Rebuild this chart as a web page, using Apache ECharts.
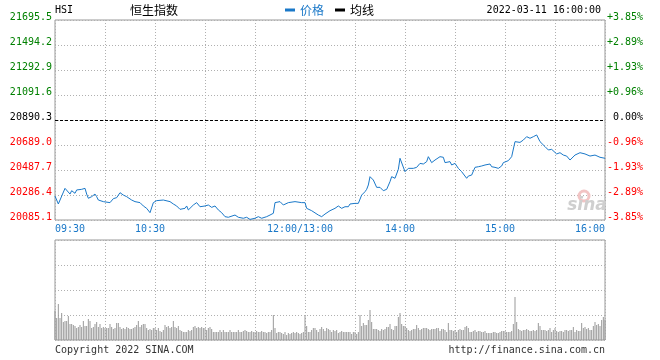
<!DOCTYPE html>
<html>
<head>
<meta charset="utf-8">
<script src="https://cdn.jsdelivr.net/npm/echarts@6/dist/echarts.min.js"></script>
<style>
	html, body { margin: 0; padding: 0; background: #fff; }
	#main { width: 660px; height: 360px; }
</style>
</head>
<body>
<div id="main"></div>
<script>
	// 昨收 / 纵轴刻度
	var prevClose = 20890.3;
	var priceMin = 20085.1;
	var priceMax = 21695.5;
	var priceStep = 201.3;

	// 横轴: 交易分钟 (09:30 起, 午间合并)
	var tickMinutes = [0, 60, 150, 210, 270, 330];
	var tickLabels = ['09:30', '10:30', '12:00/13:00', '14:00', '15:00', '16:00'];

	// 价格走势 (分钟, 点位)
	var priceTimes = [0, 2, 6, 7, 9, 10, 12, 13, 14, 16, 18, 19, 20, 22, 23, 24, 25, 26, 29, 30,
		33, 35, 37, 39, 41, 43, 46, 48, 51, 53, 55, 57, 59, 61, 62, 65, 66, 69, 71, 73,
		75, 78, 79, 80, 83, 85, 87, 90, 92, 94, 96, 98, 100, 102, 104, 108, 110, 113, 115, 117,
		120, 122, 124, 127, 129, 131, 132, 135, 137, 140, 144, 148, 150, 151, 154, 158, 160, 162, 165, 168,
		170, 172, 174, 176, 177, 180, 182, 184, 186, 187, 188, 189, 191, 192, 193, 195, 196, 197, 199, 201,
		202, 204, 206, 207, 208, 210, 212, 213, 215, 217, 219, 220, 221, 223, 224, 226, 228, 231, 233, 234,
		235, 237, 238, 240, 242, 244, 247, 248, 250, 252, 254, 256, 258, 259, 261, 262, 264, 266, 268, 269,
		272, 274, 276, 277, 279, 281, 283, 285, 287, 289, 291, 294, 296, 298, 301, 303, 305, 307, 309, 312,
		315, 318, 321, 324, 327, 330];
	var prices = [20278, 20214, 20340, 20327, 20294, 20321, 20300, 20327, 20319, 20332, 20340, 20294, 20260, 20273, 20260, 20294, 20273, 20246, 20233, 20225,
		20225, 20257, 20265, 20305, 20286, 20273, 20246, 20233, 20225, 20198, 20179, 20144, 20225, 20241, 20225, 20246, 20260, 20233, 20214, 20198,
		20171, 20179, 20198, 20166, 20206, 20225, 20192, 20198, 20206, 20187, 20198, 20166, 20144, 20112, 20107, 20125, 20107, 20099, 20107, 20090,
		20099, 20112, 20099, 20112, 20125, 20139, 20225, 20233, 20206, 20225, 20233, 20225, 20225, 20179, 20160, 20125, 20112, 20133, 20160, 20179,
		20198, 20179, 20192, 20192, 20214, 20219, 20219, 20286, 20313, 20332, 20367, 20434, 20407, 20394, 20348, 20348, 20332, 20321, 20332, 20394,
		20434, 20421, 20493, 20582, 20568, 20474, 20501, 20488, 20501, 20509, 20541, 20547, 20536, 20555, 20595, 20547, 20568, 20595, 20590, 20547,
		20536, 20555, 20528, 20541, 20501, 20474, 20421, 20439, 20447, 20509, 20514, 20520, 20528, 20514, 20536, 20514, 20509, 20501, 20520, 20547,
		20563, 20595, 20716, 20702, 20710, 20729, 20756, 20743, 20756, 20770, 20716, 20676, 20649, 20654, 20617, 20627, 20608, 20600, 20568, 20608,
		20627, 20617, 20600, 20608, 20590, 20582];

	// 成交量 (每分钟一根, 0..330)
	var volumes = [
		29, 22, 36, 22, 27, 18, 19, 19, 24, 16,
		16, 15, 14, 12, 13, 15, 13, 19, 14, 14,
		21, 19, 12, 13, 16, 18, 13, 16, 12, 13,
		12, 12, 12, 16, 13, 11, 12, 17, 17, 13,
		11, 12, 11, 13, 12, 11, 11, 12, 13, 15,
		19, 13, 15, 16, 16, 12, 10, 11, 10, 12,
		12, 10, 12, 9, 8, 10, 15, 13, 14, 12,
		13, 19, 13, 12, 14, 10, 9, 8, 8, 8,
		10, 9, 10, 13, 14, 12, 13, 12, 13, 12,
		12, 10, 12, 13, 11, 8, 8, 8, 8, 10,
		8, 10, 8, 8, 8, 10, 8, 8, 8, 8,
		10, 8, 8, 9, 10, 9, 8, 8, 9, 8,
		8, 9, 8, 8, 9, 8, 8, 7, 8, 8,
		10, 25, 12, 7, 8, 8, 7, 6, 8, 5,
		7, 6, 7, 8, 7, 8, 7, 6, 7, 8,
		24, 14, 8, 8, 10, 12, 12, 10, 8, 11,
		13, 11, 9, 12, 11, 10, 8, 10, 9, 10,
		7, 8, 9, 8, 8, 8, 8, 8, 6, 8,
		8, 6, 8, 25, 14, 17, 15, 15, 20, 30,
		18, 11, 11, 11, 10, 9, 11, 10, 11, 13,
		13, 16, 11, 10, 14, 14, 23, 27, 16, 14,
		14, 12, 10, 9, 10, 11, 11, 15, 12, 10,
		11, 12, 12, 12, 11, 10, 11, 11, 11, 12,
		12, 9, 11, 11, 10, 8, 17, 10, 10, 9,
		10, 8, 10, 11, 10, 10, 13, 14, 12, 8,
		8, 9, 10, 8, 9, 9, 8, 8, 9, 7,
		7, 7, 7, 8, 8, 7, 7, 8, 9, 9,
		9, 8, 8, 8, 9, 16, 43, 18, 11, 10,
		9, 10, 10, 11, 10, 9, 9, 10, 9, 10,
		17, 14, 10, 10, 10, 9, 10, 12, 8, 10,
		12, 9, 8, 9, 9, 8, 10, 10, 9, 10,
		10, 13, 8, 10, 9, 9, 17, 12, 13, 11,
		12, 10, 10, 14, 18, 15, 16, 14, 20, 23,
		20];

	var MONO = 'DejaVu Sans Mono';
	var BLUE = '#1a78c8';
	var GRID_LINE = { show: true, lineStyle: { color: '#b0b0b0', type: [1, 2], width: 1 } };

	function priceColor(v) {
		var d = v - prevClose;
		if (Math.abs(d) < 0.05) return '#000000';
		return d > 0 ? '#008000' : '#ff0000';
	}

	function timeFormatter(v) {
		var i = tickMinutes.indexOf(Math.round(v));
		if (i < 0) return '';
		if (i == 0) return '{l|' + tickLabels[i] + '}';
		if (i == tickLabels.length - 1) return '{r|' + tickLabels[i] + '}';
		return '{m|' + tickLabels[i] + '}';
	}

	var linePoints = [];
	for (var i = 0; i < priceTimes.length; i++) {
		linePoints.push([priceTimes[i], prices[i]]);
	}
	var volPoints = [];
	for (var j = 0; j < volumes.length; j++) {
		volPoints.push([j, volumes[j]]);
	}

	var myChart = echarts.init(document.getElementById('main'));
	var option = {
		animation: false,
		backgroundColor: '#ffffff',
		legend: {
			left: 285,
			top: 4,
			padding: 0,
			icon: 'rect',
			itemWidth: 10,
			itemHeight: 3,
			itemGap: 11,
			selectedMode: false,
			textStyle: { fontSize: 12, fontFamily: 'Noto Sans CJK SC' },
			data: [
				{ name: '价格', textStyle: { color: BLUE } },
				{ name: '均线', textStyle: { color: '#000' } }
			]
		},
		grid: [
			{ left: 55, right: 55, top: 20, height: 200, show: true, borderColor: '#999', borderWidth: 1 },
			{ left: 55, right: 55, top: 240, height: 100, show: true, borderColor: '#999', borderWidth: 1 }
		],
		xAxis: [{
			type: 'value',
			gridIndex: 0,
			min: 0,
			max: 330,
			interval: 30,
			axisLine: { show: false },
			axisTick: { show: false },
			splitLine: GRID_LINE,
			axisLabel: {
				margin: 4,
				formatter: timeFormatter,
				fontFamily: MONO,
				fontSize: 10,
				color: BLUE,
				rich: {
					l: { fontFamily: MONO, fontSize: 10, color: BLUE, padding: [0, 0, 0, 30] },
					m: { fontFamily: MONO, fontSize: 10, color: BLUE, padding: [0, 10, 0, 0] },
					r: { fontFamily: MONO, fontSize: 10, color: BLUE, padding: [0, 30, 0, 0] }
				}
			}
		}, {
			type: 'value',
			gridIndex: 1,
			min: 0,
			max: 330,
			interval: 30,
			axisLine: { show: false },
			axisTick: { show: false },
			axisLabel: { show: false },
			splitLine: GRID_LINE
		}],
		yAxis: [{
			type: 'value',
			gridIndex: 0,
			position: 'left',
			min: priceMin,
			max: priceMax,
			interval: priceStep,
			axisLine: { show: false },
			axisTick: { show: false },
			splitLine: GRID_LINE,
			axisLabel: {
				margin: 3,
				fontFamily: MONO,
				fontSize: 10,
				verticalAlign: 'bottom',
				lineHeight: 5,
				formatter: function (v) { return v.toFixed(1); },
				color: function (v) { return priceColor(Number(v)); }
			}
		}, {
			type: 'value',
			gridIndex: 0,
			position: 'right',
			min: priceMin,
			max: priceMax,
			interval: priceStep,
			axisLine: { show: false },
			axisTick: { show: false },
			splitLine: { show: false },
			axisLabel: {
				margin: 38,
				align: 'right',
				fontFamily: MONO,
				fontSize: 10,
				verticalAlign: 'bottom',
				lineHeight: 5,
				formatter: function (v) {
					var pct = (v - prevClose) / prevClose * 100;
					if (Math.abs(pct) < 0.005) return '0.00%';
					return (pct > 0 ? '+' : '') + pct.toFixed(2) + '%';
				},
				color: function (v) { return priceColor(Number(v)); }
			}
		}, {
			type: 'value',
			gridIndex: 1,
			min: 0,
			max: 100,
			interval: 25,
			axisLine: { show: false },
			axisTick: { show: false },
			axisLabel: { show: false },
			splitLine: GRID_LINE
		}],
		graphic: [
			{ type: 'text', x: 55, y: 10, style: { text: 'HSI', font: '10px "DejaVu Sans Mono"', fill: '#000', align: 'left', verticalAlign: 'middle' } },
			{ type: 'text', x: 130, y: 10, style: { text: '恒生指数', font: '12px "Noto Sans CJK SC"', fill: '#000', align: 'left', verticalAlign: 'middle' } },
			{ type: 'text', x: 601, y: 10, style: { text: '2022-03-11 16:00:00', font: '10px "DejaVu Sans Mono"', fill: '#000', align: 'right', verticalAlign: 'middle' } },
			{ type: 'text', x: 55, y: 350, style: { text: 'Copyright 2022 SINA.COM', font: '10px "DejaVu Sans Mono"', fill: '#333', align: 'left', verticalAlign: 'middle' } },
			{ type: 'text', x: 605, y: 350, style: { text: 'http://finance.sina.com.cn', font: '10px "DejaVu Sans Mono"', fill: '#333', align: 'right', verticalAlign: 'middle' } },
			// 水印
			{ type: 'circle', shape: { cx: 584, cy: 196, r: 5 }, style: { fill: 'none', stroke: '#f2c4c4', lineWidth: 3 }, z: 1 },
			{ type: 'text', x: 587, y: 206, style: { text: 'sina', font: 'italic bold 17px "DejaVu Sans"', fill: '#cfcfcf', align: 'center', verticalAlign: 'middle' }, z: 1 }
		],
		series: [{
			name: '价格',
			type: 'line',
			xAxisIndex: 0,
			yAxisIndex: 0,
			data: linePoints,
			showSymbol: false,
			color: BLUE,
			lineStyle: { width: 1, color: BLUE },
			z: 5,
			markLine: {
				silent: true,
				symbol: 'none',
				label: { show: false },
				lineStyle: { color: '#000', type: [3, 2], width: 1 },
				data: [{ yAxis: prevClose }]
			}
		}, {
			name: '均线',
			type: 'line',
			xAxisIndex: 0,
			yAxisIndex: 0,
			data: [],
			color: '#000'
		}, {
			name: '成交量',
			type: 'bar',
			xAxisIndex: 1,
			yAxisIndex: 2,
			data: volPoints,
			barWidth: 1,
			itemStyle: { color: '#999' }
		}]
	};
	myChart.setOption(option);
</script>
</body>
</html>
